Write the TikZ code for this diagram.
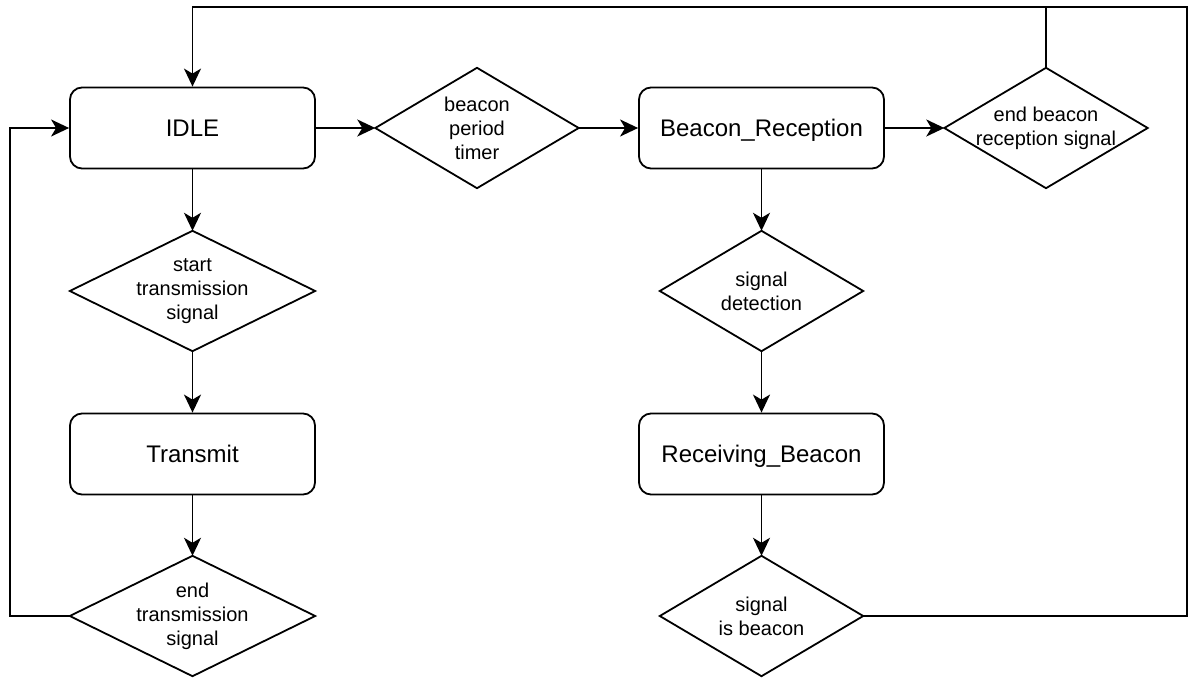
\documentclass[tikz,border=0pt]{standalone}
\usepackage{fontspec}
\setmainfont{Liberation Sans}
\usetikzlibrary{arrows.meta}

\tikzset{
  line/.style={line width=1.8pt, draw=black},
  arr/.style={line, -{Stealth[length=18pt,width=17pt,inset=5pt]}},
  statebox/.style={line, rounded corners=12pt, minimum width=245pt,
    minimum height=81pt, inner sep=0pt, align=center,
    text height=17pt, text depth=0pt,
    font=\fontsize{24}{29}\selectfont},
  decision/.style={minimum height=120pt, inner sep=0pt, align=center,
    font=\fontsize{20}{24}\selectfont},
  wide/.style={decision, minimum width=245pt},
  narrow/.style={decision, minimum width=203pt},
}

\begin{document}
\begin{tikzpicture}[x=1pt, y=-1pt]
\useasboundingbox (0,0) rectangle (1188,679);

% states
\node[statebox] (idle)  at (192.5,128)  {IDLE};
\node[statebox] (trans) at (192.5,454)  {Transmit};
\node[statebox] (brec)  at (761.5,128)  {Beacon\_Reception};
\node[statebox] (rbea)  at (761.5,454)  {Receiving\_Beacon};

% decisions (text only; outlines drawn below)
\node[wide]   (dstart) at (192.5,291) {start\\transmission\\signal};
\node[wide]   (dend)   at (192.5,616) {end\\transmission\\signal};
\node[narrow] (dtimer) at (477,128)   {beacon\\period\\timer};
\node[narrow] (dendb)  at (1046,128)  {end beacon\\reception signal};
\node[narrow] (ddet)   at (761.5,291) {signal\\detection};
\node[narrow] (disb)   at (761.5,616) {signal\\is beacon};

\foreach \d in {dstart,dend,dtimer,dendb,ddet,disb}
  \draw[line, line join=miter] (\d.north) -- (\d.east) -- (\d.south) -- (\d.west) -- cycle;

% routing helpers
\coordinate (lft)  at (10,0);
\coordinate (rgt)  at (1187.2,0);
\coordinate (topy) at (0,7);

% transmit branch
\draw[arr] (idle.south)   -- (dstart.north);
\draw[arr] (dstart.south) -- (trans.north);
\draw[arr] (trans.south)  -- (dend.north);
\draw[arr] (dend.west) -- (dend.west -| lft) -- (lft |- idle.west) -- (idle.west);

% beacon branch
\draw[arr] (idle.east)   -- (dtimer.west);
\draw[arr] (dtimer.east) -- (brec.west);
\draw[arr] (brec.east)   -- (dendb.west);
\draw[arr] (brec.south)  -- (ddet.north);
\draw[arr] (ddet.south)  -- (rbea.north);
\draw[arr] (rbea.south)  -- (disb.north);

% return paths to IDLE
\draw[arr] (dendb.north) -- (dendb.north |- topy) -| (idle.north);
\draw[line] (disb.east) -- (disb.east -| rgt) -- (rgt |- topy) -- (dendb.north |- topy);
\end{tikzpicture}
\end{document}
